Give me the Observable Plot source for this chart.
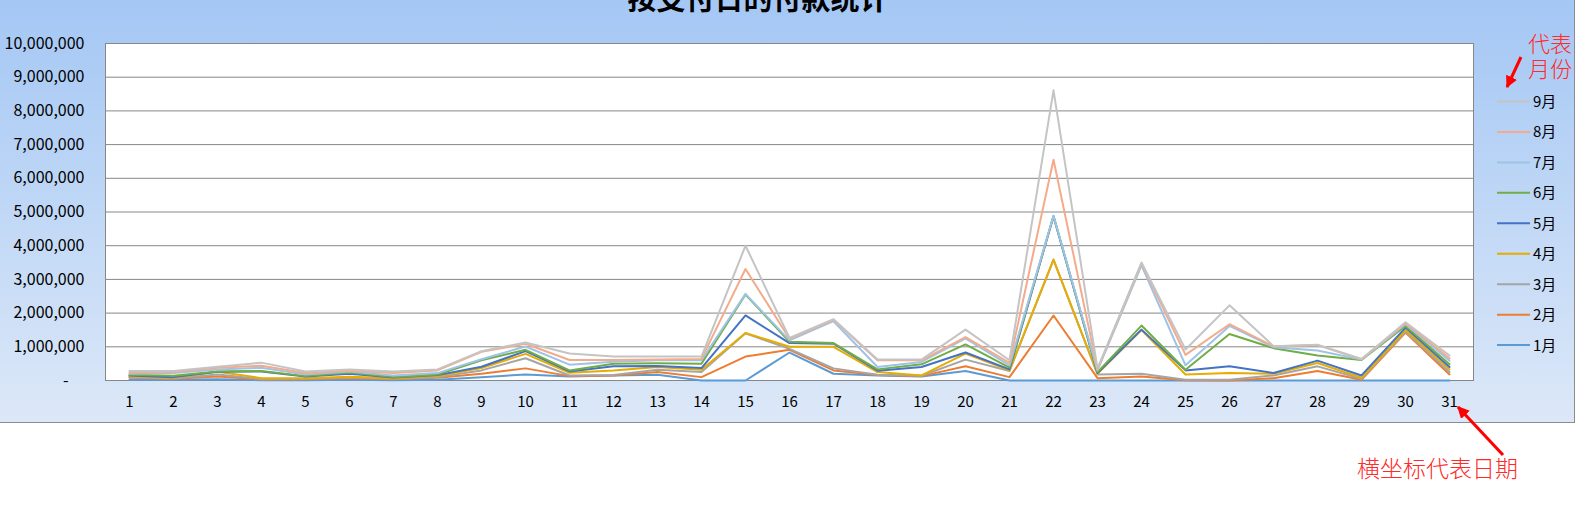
<!DOCTYPE html>
<html>
<head>
<meta charset="utf-8">
<script src="https://cdn.jsdelivr.net/npm/d3@7"></script>
<script src="https://cdn.jsdelivr.net/npm/@observablehq/plot@0.6"></script>
<style>
  html, body { margin: 0; padding: 0; background: #fff; width: 1585px; height: 506px; overflow: hidden; }
  #bg { position: absolute; left: 0; top: 0; width: 1574px; height: 422px;
        background: linear-gradient(to bottom, #a4c7f4 0%, #dce8f8 100%);
        border-right: 1px solid #8c8c8c; border-bottom: 1px solid #8c8c8c; }
  #chart { position: absolute; left: 0; top: 0; }
  #overlay { position: absolute; left: 0; top: 0; pointer-events: none; }
</style>
</head>
<body>
<div id="bg"></div>
<div id="chart"></div>
<svg id="overlay" width="1585" height="506"></svg>
<script>
// ---------- data ----------
const days = [1,2,3,4,5,6,7,8,9,10,11,12,13,14,15,16,17,18,19,20,21,22,23,24,25,26,27,28,29,30,31];
const months = ["1月","2月","3月","4月","5月","6月","7月","8月","9月"];
const colors = ["#5b9bd5","#ed7d31","#a5a5a5","#e6ac00","#4472c4","#70ad47","#9dc3e6","#f4ab8c","#c4c4c4"];
const yTicks = [0,1000000,2000000,3000000,4000000,5000000,6000000,7000000,8000000,9000000,10000000];
const title = "按支付日的付款统计";

// stacked (cumulative) values as drawn for each month, days 1..31
const m1 = [20000,20000,40000,10000,10000,20000,10000,20000,100000,180000,120000,150000,170000,0,0,830000,200000,150000,120000,280000,0,0,0,0,0,0,0,0,0,0,0];
const m2 = [80000,50000,120000,30000,40000,70000,40000,80000,200000,360000,130000,150000,250000,100000,710000,910000,300000,160000,130000,420000,100000,1930000,70000,120000,10000,0,70000,280000,20000,1420000,180000];
const m3 = [100000,60000,180000,40000,50000,90000,50000,100000,300000,660000,150000,160000,320000,250000,1400000,940000,360000,170000,140000,620000,280000,3580000,180000,200000,20000,20000,150000,420000,50000,1450000,250000];
const m4 = [120000,80000,260000,70000,70000,110000,70000,130000,370000,790000,230000,300000,400000,320000,1410000,1000000,1000000,250000,150000,800000,300000,3590000,200000,1500000,180000,220000,200000,520000,80000,1500000,330000];
const m5 = [150000,100000,260000,270000,120000,200000,90000,160000,410000,870000,270000,420000,430000,370000,1930000,1110000,1090000,290000,400000,830000,330000,4870000,220000,1510000,300000,420000,220000,590000,150000,1570000,400000];
const m6 = [170000,140000,270000,280000,130000,240000,100000,180000,600000,910000,300000,500000,510000,500000,2550000,1150000,1110000,330000,480000,1070000,380000,4880000,250000,1630000,320000,1380000,960000,740000,610000,1620000,480000];
const m7 = [200000,220000,330000,380000,180000,270000,150000,220000,630000,1010000,470000,560000,600000,600000,2570000,1190000,1760000,400000,550000,1250000,450000,4890000,300000,3420000,450000,1620000,990000,890000,620000,1670000,590000];
const m8 = [240000,250000,380000,440000,220000,290000,220000,300000,850000,1090000,610000,610000,620000,640000,3310000,1240000,1800000,600000,600000,1290000,520000,6550000,330000,3480000,760000,1670000,1010000,1050000,630000,1700000,660000];
const m9 = [280000,280000,410000,530000,270000,330000,270000,330000,870000,1130000,800000,710000,710000,710000,4000000,1260000,1820000,620000,620000,1510000,600000,8610000,350000,3500000,920000,2230000,1020000,1060000,640000,1730000,740000];

const series = [m1,m2,m3,m4,m5,m6,m7,m8,m9];
const rows = [];
months.forEach((m, i) => days.forEach((d, j) => rows.push({day: d, month: m, value: series[i][j]})));

const fmt = d3.format(",");
const yFormat = d => d === 0 ? "-\u2002\u2002" : fmt(d);
const FONT = "'Noto Sans CJK SC', 'Noto Sans', sans-serif";

const chart = Plot.plot({
  width: 1480, height: 423,
  marginLeft: 105, marginRight: 7, marginTop: 43, marginBottom: 43,
  style: {background: "transparent", fontFamily: FONT, fontSize: "15px", color: "#000", overflow: "visible"},
  x: {type: "point", domain: days, padding: 0.5, label: null},
  y: {domain: [0, 10000000], label: null},
  color: {domain: months, range: colors},
  marks: [
    Plot.frame({fill: "white", stroke: "none"}),
    Plot.ruleY(yTicks, {stroke: "#878787", strokeWidth: 1}),
    Plot.frame({stroke: "#878787", strokeWidth: 1}),
    Plot.axisY({ticks: yTicks, tickSize: 0, tickPadding: 21, tickFormat: yFormat, label: null, fill: "#000", fontSize: 16}),
    Plot.axisX({tickSize: 0, tickPadding: 16, label: null, fill: "#000", fontSize: 15}),
    Plot.lineY(rows, {x: "day", y: "value", z: "month", stroke: "month", strokeWidth: 2})
  ]
});
document.getElementById("chart").appendChild(chart);

// ---------- overlay: title, legend, annotations ----------
const ov = d3.select("#overlay");
const defs = ov.append("defs");
defs.append("marker").attr("id", "arr").attr("viewBox", "0 0 10 10")
  .attr("refX", 9).attr("refY", 5).attr("markerWidth", 4).attr("markerHeight", 4)
  .attr("orient", "auto").append("path").attr("d", "M0,0 L10,5 L0,10 z").attr("fill", "#ff0000");

ov.append("text").attr("x", 758).attr("y", 10).attr("text-anchor", "middle")
  .attr("font-family", FONT).attr("font-size", 29).attr("font-weight", 700).attr("fill", "#000")
  .text(title);

// legend (9月 at top)
const legendMonths = months.slice().reverse();
const legendColors = colors.slice().reverse();
const lg = ov.append("g");
legendMonths.forEach((m, i) => {
  const y = 101.5 + i * 30.45;
  lg.append("line").attr("x1", 1497).attr("x2", 1530).attr("y1", y).attr("y2", y)
    .attr("stroke", legendColors[i]).attr("stroke-width", 2);
  lg.append("text").attr("x", 1533).attr("y", y).attr("dy", "0.36em")
    .attr("font-family", FONT).attr("font-size", 15).attr("fill", "#000").text(m);
});

// red annotations
const red = "#ff2a2a";
ov.append("text").attr("x", 1528).attr("y", 52).attr("font-family", FONT).attr("font-size", 22)
  .attr("font-weight", 300).attr("fill", red).text("代表");
ov.append("text").attr("x", 1528).attr("y", 77).attr("font-family", FONT).attr("font-size", 22)
  .attr("font-weight", 300).attr("fill", red).text("月份");
ov.append("text").attr("x", 1357).attr("y", 477).attr("font-family", FONT).attr("font-size", 23)
  .attr("font-weight", 300).attr("fill", red).text("横坐标代表日期");
ov.append("line").attr("x1", 1521).attr("y1", 57).attr("x2", 1507).attr("y2", 87)
  .attr("stroke", "#ff0000").attr("stroke-width", 3).attr("marker-end", "url(#arr)");
ov.append("line").attr("x1", 1503).attr("y1", 455).attr("x2", 1458).attr("y2", 407)
  .attr("stroke", "#ff0000").attr("stroke-width", 3).attr("marker-end", "url(#arr)");
</script>
</body>
</html>
